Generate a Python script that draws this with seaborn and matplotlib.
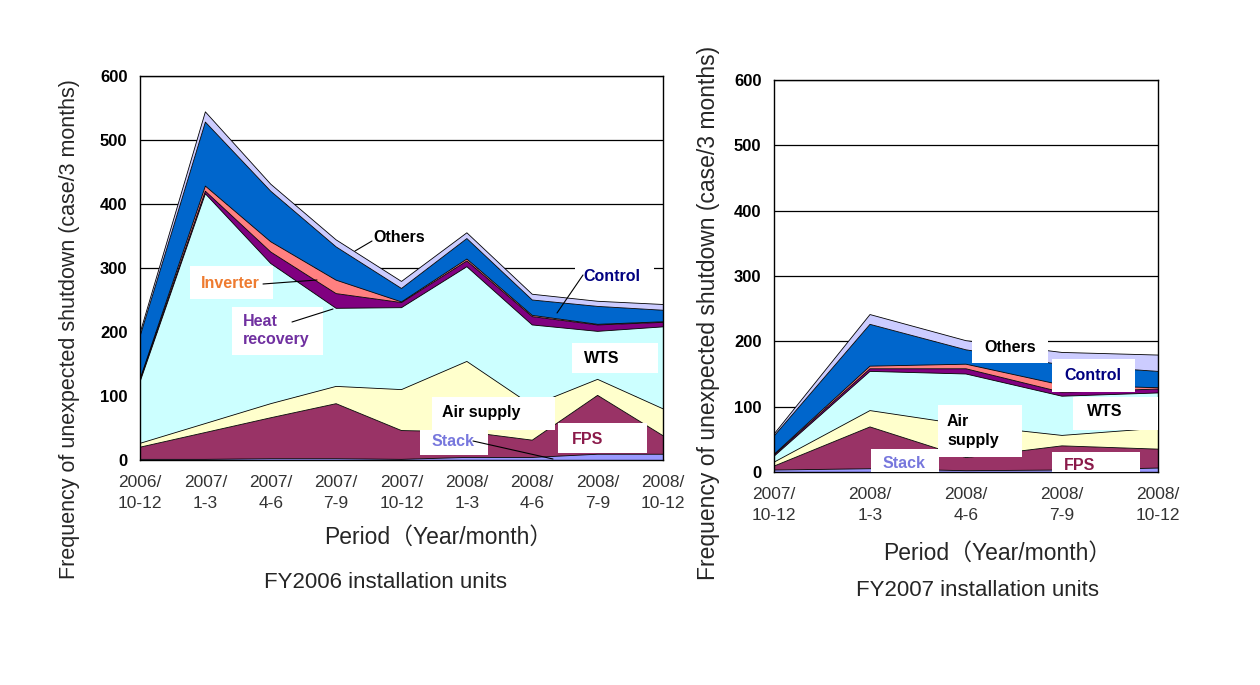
import numpy as np
import pandas as pd
import matplotlib
matplotlib.use("Agg")
import matplotlib.pyplot as plt
import seaborn as sns
from matplotlib.patches import Rectangle
from matplotlib.lines import Line2D

# ---------------- data ----------------
causes = ["Stack", "FPS", "Air supply", "WTS", "Heat recovery", "Inverter", "Control", "Others"]

periods_fy2006 = ["2006/\n10-12", "2007/\n1-3", "2007/\n4-6", "2007/\n7-9", "2007/\n10-12",
                  "2008/\n1-3", "2008/\n4-6", "2008/\n7-9", "2008/\n10-12"]
fy2006_stack = [1, 1, 2, 2, 1, 4, 4, 9, 9]
fy2006_fps = [19, 42, 64, 86, 45, 40, 27, 92, 29]
fy2006_air = [6, 14, 22, 27, 64, 110, 54, 25, 42]
fy2006_wts = [96, 359, 219, 122, 128, 148, 126, 75, 128]
fy2006_heat = [3, 4, 18, 23, 8, 9, 13, 10, 7]
fy2006_inverter = [1, 8, 16, 21, 1, 3, 2, 1, 1]
fy2006_control = [67, 100, 79, 52, 21, 32, 24, 28, 18]
fy2006_others = [5, 16, 11, 11, 11, 9, 9, 8, 9]

periods_fy2007 = ["2007/\n10-12", "2008/\n1-3", "2008/\n4-6", "2008/\n7-9", "2008/\n10-12"]
fy2007_stack = [3, 5, 2, 3, 6]
fy2007_fps = [6, 64, 20, 37, 29]
fy2007_air = [6, 25, 50, 16, 32]
fy2007_wts = [9, 60, 78, 60, 54]
fy2007_heat = [2, 4, 8, 6, 6]
fy2007_inverter = [1, 4, 7, 11, 2]
fy2007_control = [28, 64, 22, 31, 25]
fy2007_others = [3, 15, 14, 19, 25]

colors = {"Stack": "#9999FF", "FPS": "#993366", "Air supply": "#FFFFCC", "WTS": "#CCFFFF",
          "Heat recovery": "#800080", "Inverter": "#FF8080", "Control": "#0066CC",
          "Others": "#CCCCFF"}

# ---------------- style ----------------
sns.set_theme(style="white")
plt.rcParams["font.family"] = ["Liberation Sans", "Noto Sans CJK JP", "DejaVu Sans"]

W, H = 1260, 685
fig = plt.figure(figsize=(W / 100, H / 100), dpi=100)
fig.patch.set_facecolor("white")


def fx(px):
    return px / W


def fy(py):
    return 1 - py / H


def draw(ax, labels, series):
    x = np.arange(len(labels))
    df = pd.DataFrame(dict(zip(causes, series)), index=x)
    cum = df.cumsum(axis=1)
    base = np.zeros(len(x))
    for c in causes:
        top = cum[c].to_numpy(dtype=float)
        ax.fill_between(x, base, top, facecolor=colors[c], edgecolor="none", zorder=2)
        base = top
    long = cum.reset_index(names="pos").melt(id_vars="pos", var_name="cause", value_name="top")
    sns.lineplot(data=long, x="pos", y="top", units="cause", estimator=None,
                 color="black", lw=0.6, ax=ax, zorder=3, legend=False)
    ax.set_xlim(0, len(x) - 1)
    ax.set_ylim(0, 600)
    ax.set_yticks(range(0, 601, 100))
    ax.set_xticks(x)
    ax.set_xticklabels(labels, fontsize=12.5, color="#333333", linespacing=1.45)
    for t in ax.get_yticklabels():
        t.set_fontweight("bold")
        t.set_fontsize(12)
        t.set_color("black")
    ax.set_xlabel("")
    ax.set_ylabel("")
    ax.grid(axis="y", color="black", lw=0.9)
    ax.grid(axis="x", visible=False)
    ax.set_axisbelow(True)
    for s in ax.spines.values():
        s.set_visible(True)
        s.set_color("black")
        s.set_linewidth(1.0)
    ax.tick_params(axis="y", length=0, pad=9)
    ax.tick_params(axis="x", direction="in", length=4, color="black", pad=11)
    ax.set_facecolor("white")


ax1 = fig.add_axes([fx(140), fy(460), (663 - 140) / W, (460 - 76) / H])
draw(ax1, periods_fy2006, [fy2006_stack, fy2006_fps, fy2006_air, fy2006_wts,
                           fy2006_heat, fy2006_inverter, fy2006_control, fy2006_others])

ax2 = fig.add_axes([fx(774), fy(472), (1158 - 774) / W, (472 - 80) / H])
draw(ax2, periods_fy2007, [fy2007_stack, fy2007_fps, fy2007_air, fy2007_wts,
                           fy2007_heat, fy2007_inverter, fy2007_control, fy2007_others])

# axis titles
ylab = "Frequency of unexpected shutdown (case/3 months)"
fig.text(fx(70), fy(329), ylab, rotation=90, ha="center", va="center", fontsize=15.5)
fig.text(fx(709), fy(313), ylab, rotation=90, ha="center", va="center", fontsize=16.5)
fig.text(fx(438), fy(537), "Period（Year/month）", ha="center", va="center", fontsize=16.5)
fig.text(fx(997), fy(553), "Period（Year/month）", ha="center", va="center", fontsize=16.5)
fig.text(fx(386), fy(583), "FY2006 installation units", ha="center", va="center", fontsize=16)
fig.text(fx(978), fy(590), "FY2007 installation units", ha="center", va="center", fontsize=16)


# ---------------- annotations ----------------
def box(x0, y0, x1, y1):
    fig.add_artist(Rectangle((fx(x0), fy(y1)), (x1 - x0) / W, (y1 - y0) / H,
                             transform=fig.transFigure, facecolor="white",
                             edgecolor="none", zorder=5))


def label(px, py, s, color="black"):
    fig.text(fx(px), fy(py), s, color=color, ha="left", va="center", fontsize=11.5,
             fontweight="bold", zorder=7, linespacing=1.25)


def leader(x0, y0, x1, y1):
    fig.add_artist(Line2D([fx(x0), fx(x1)], [fy(y0), fy(y1)], transform=fig.transFigure,
                          color="black", lw=0.8, zorder=6))


C_INV, C_HEAT, C_CTRL, C_STACK, C_FPS = "#EE7B30", "#7030A0", "#000080", "#7777DD", "#8B1A4A"

# left chart
label(373, 237, "Others")
leader(372, 241, 355, 251)
box(190, 266, 273, 299)
label(201, 283, "Inverter", C_INV)
leader(263, 284, 317, 280)
box(232, 307, 323, 355)
label(243, 330, "Heat\nrecovery", C_HEAT)
leader(292, 322, 333, 309)
box(575, 262, 654, 292)
label(583, 277, "Control", C_CTRL)
leader(583, 275, 557, 313)
box(572, 343, 658, 373)
label(584, 358, "WTS")
box(432, 397, 555, 430)
label(442, 412, "Air supply")
box(420, 430, 488, 455)
label(432, 441, "Stack", C_STACK)
leader(473, 441, 553, 459)
box(558, 423, 647, 453)
label(572, 439, "FPS", C_FPS)

# right chart
box(972, 340, 1048, 363)
label(984, 348, "Others")
box(1052, 359, 1135, 392)
label(1064, 375, "Control", C_CTRL)
box(1073, 397, 1158, 430)
label(1087, 412, "WTS")
box(938, 405, 1022, 457)
label(947, 431, "Air\nsupply")
box(871, 449, 939, 472)
label(883, 464, "Stack", C_STACK)
box(1052, 452, 1140, 472)
label(1064, 466, "FPS", C_FPS)

fig.savefig("out.png", dpi=100, facecolor="white")
